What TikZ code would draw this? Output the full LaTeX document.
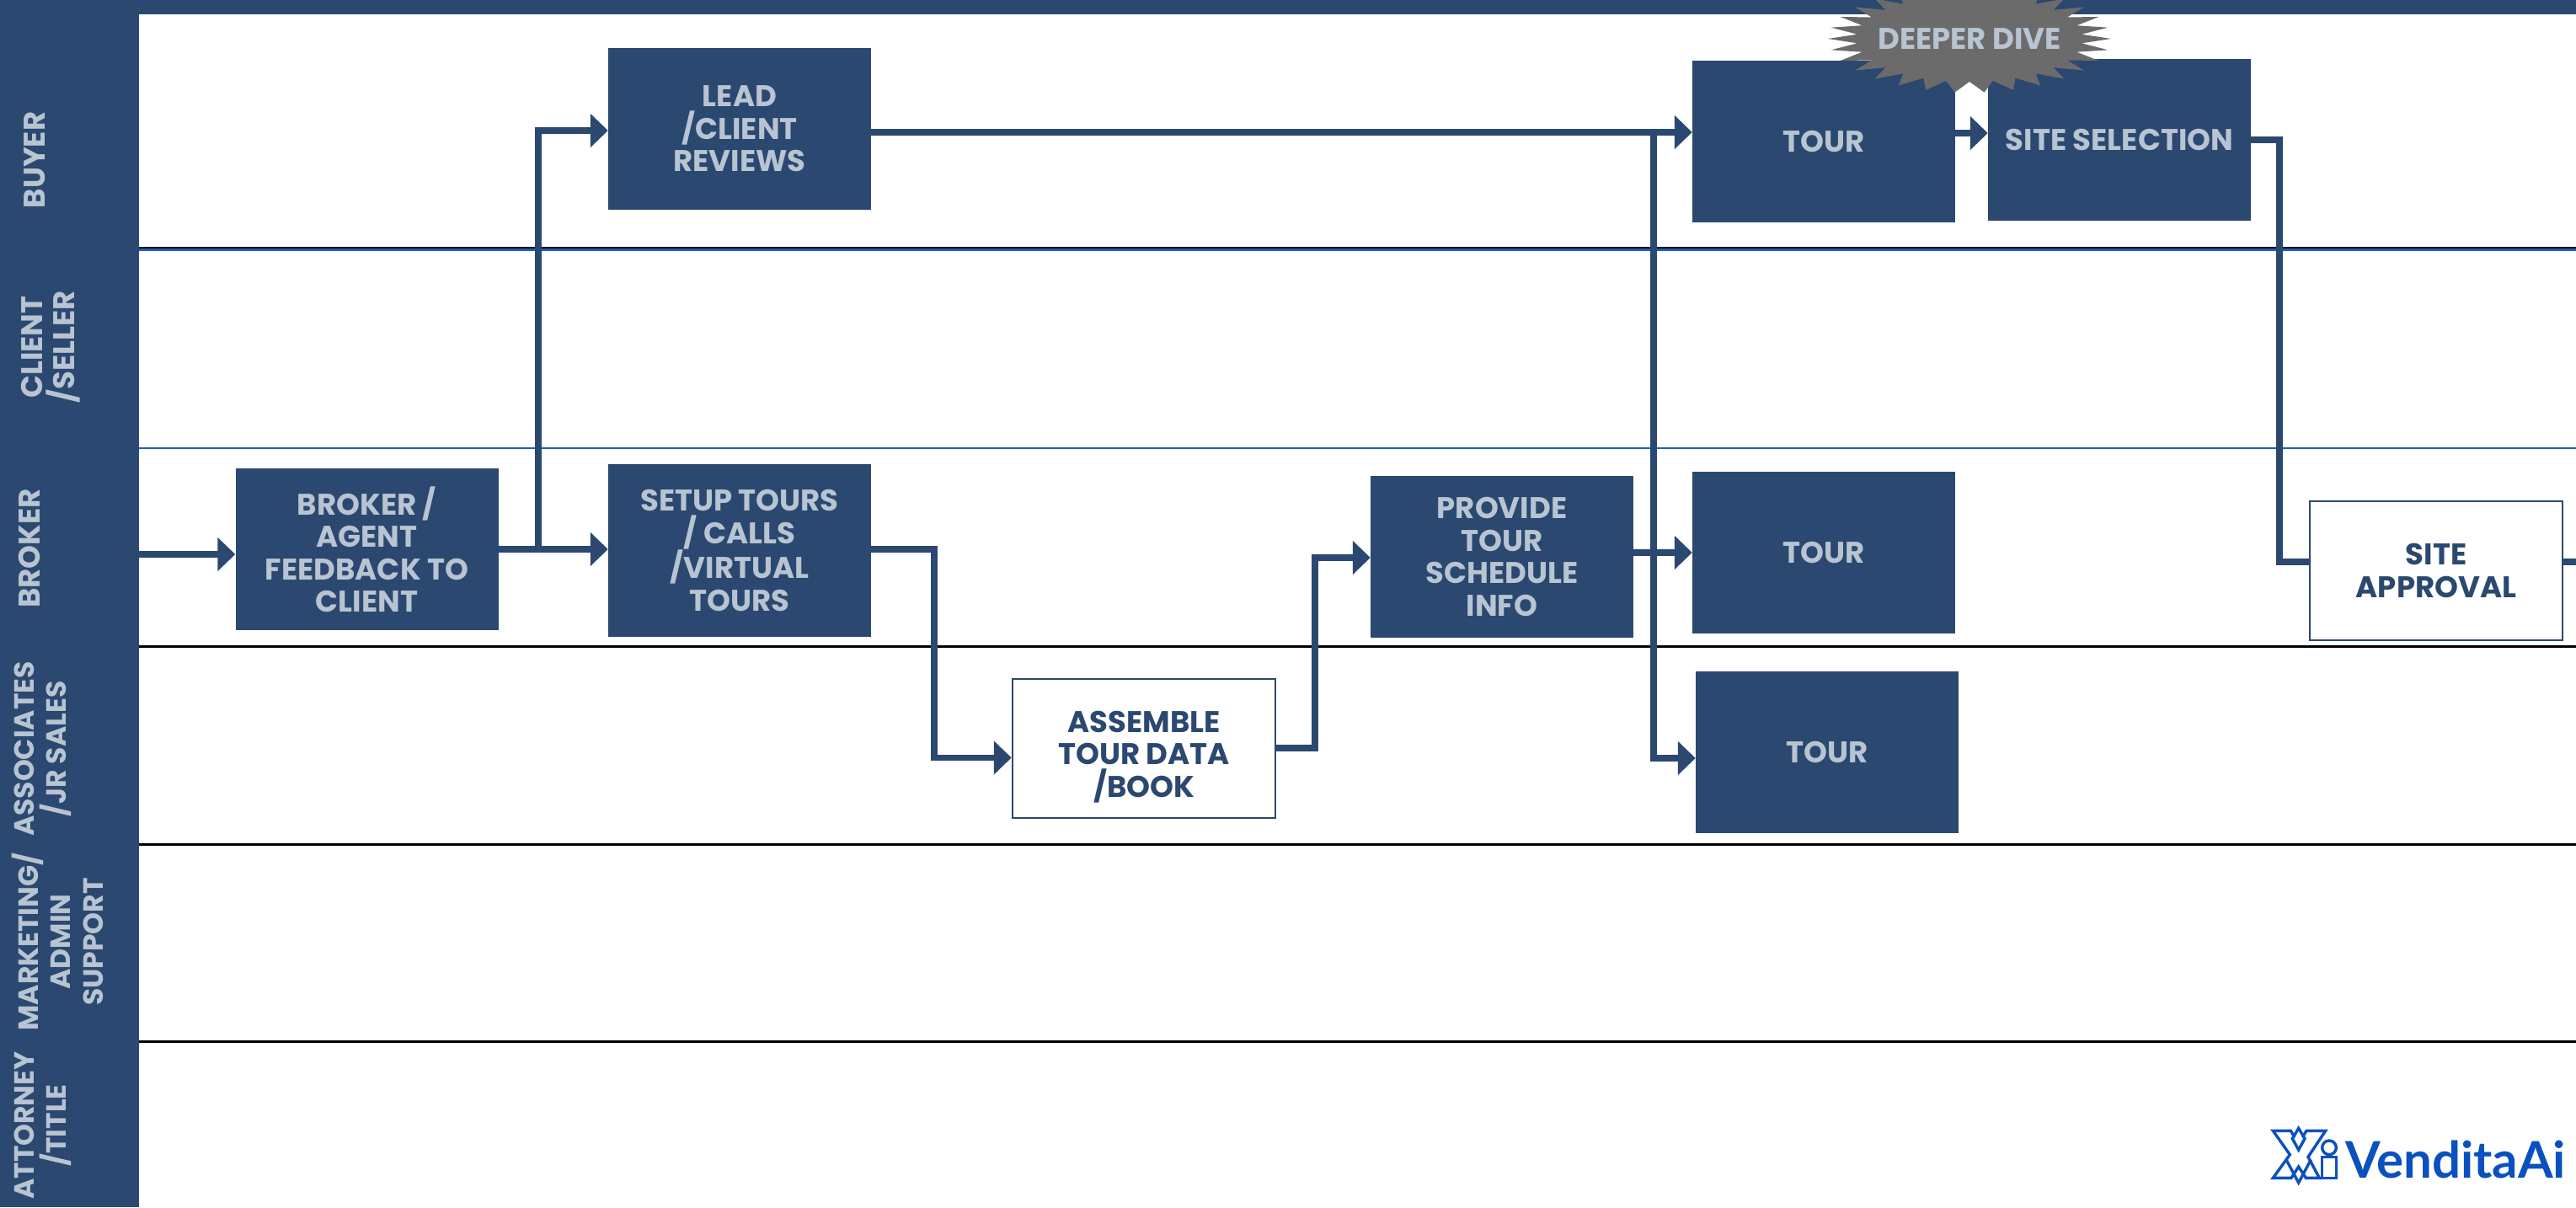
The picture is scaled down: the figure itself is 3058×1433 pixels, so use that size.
\documentclass[tikz,border=0pt]{standalone}
\usepackage{fontspec}
\setmainfont{Poppins}
\newfontfamily\logofont{Lato}
\usepackage{tikz}
\usetikzlibrary{arrows.meta}

\definecolor{navy}{HTML}{2B4870}
\definecolor{pale}{HTML}{B8C4D1}
\definecolor{divegray}{HTML}{6B6B6B}
\definecolor{laneblue}{HTML}{1F5FBF}
\definecolor{logoblue}{HTML}{0B50BF}

\newcommand{\boxfont}{\fontsize{35.5}{38.5}\selectfont\bfseries}
\newcommand{\longlanefont}{\fontsize{33}{38.5}\selectfont\bfseries}

\tikzset{
	bluebox/.style={rectangle, fill=navy, text=pale, inner sep=0pt, align=center, font=\boxfont, minimum width=312, minimum height=192},
	whitebox/.style={rectangle, draw=navy, line width=2.5pt, fill=white, text=navy, inner sep=0pt, align=center, font=\boxfont},
	lanelabel/.style={rotate=90, text=pale, inner sep=0pt, align=center, font=\boxfont},
	longlabel/.style={lanelabel, font=\longlanefont},
	lane/.style={line width=3pt, black},
	flow/.style={draw=navy, line width=7.5pt, -{Triangle[length=21pt,width=39pt]}},
	flowstub/.style={draw=navy, line width=7.5pt},
}

\begin{document}
\begin{tikzpicture}[x=1pt, y=-1pt]
\useasboundingbox (0,0) rectangle (3058,1433);
\clip (0,0) rectangle (3058,1433);

\draw[lane] (165,294) -- (3058,294);
\draw[line width=2.5pt, laneblue] (165,296.5) -- (3058,296.5);
\draw[line width=2.5pt, laneblue] (165,532) -- (3058,532);
\draw[lane] (165,767) -- (3058,767);
\draw[lane] (165,1002) -- (3058,1002);
\draw[lane] (165,1236) -- (3058,1236);

\fill[navy] (0,0) rectangle (165,1433);
\fill[navy] (0,0) rectangle (3058,17);

\node (buyer) at (41,190) [lanelabel] {BUYER};
\node (seller) at (60,412) [lanelabel] {CLIENT\\/SELLER};
\node (brokerlane) at (35,651) [lanelabel] {BROKER};
\node (associates) at (51,889) [longlabel] {ASSOCIATES\\/JR SALES};
\node (marketing) at (68,1118) [longlabel] {MARKETING/\\ADMIN\\SUPPORT};
\node (attorney) at (51,1336) [longlabel] {ATTORNEY\\/TITLE};

\node (lead) at (878,153) [bluebox] {LEAD\\/CLIENT\\REVIEWS};
\node (feedback) at (435.5,652) [bluebox] {BROKER /\\AGENT\\FEEDBACK TO\\CLIENT};
\node (setup) at (878,653.5) [bluebox, minimum height=205] {SETUP TOURS\\/ CALLS\\/VIRTUAL\\TOURS};
\node (assemble) at (1358,888.5) [whitebox, minimum width=312, minimum height=165] {\rule{0pt}{45pt}ASSEMBLE\\TOUR DATA\\/BOOK};
\node (provide) at (1783,661) [bluebox] {PROVIDE\\TOUR\\SCHEDULE\\INFO};
\node (tourtop) at (2165,168) [bluebox] {TOUR};
\node (tourmid) at (2165,656) [bluebox] {TOUR};
\node (tourlow) at (2169,893) [bluebox] {TOUR};
\node (selection) at (2516,166) [bluebox] {SITE SELECTION};
\node (approval) at (2892,677.5) [whitebox, minimum width=300, minimum height=165] {SITE\\APPROVAL};

\coordinate (entry) at (165,658);
\coordinate (forklead) at (639,652);
\coordinate (forktour) at (1963,157);
\coordinate (dropsetup) at (1109,652);
\coordinate (riseassemble) at (1561,888);
\coordinate (dropselection) at (2706,166);
\coordinate (exitapproval) at (3058,667);

\draw[flow] (entry) -- (entry -| feedback.west);
\draw[flow] (feedback.east) -- (feedback.east -| setup.west);
\draw[flow] (forklead) |- ([yshift=-2pt]lead.west);
\draw[flow] ([yshift=-4pt]lead.east) -- ([yshift=11pt]tourtop.west);
\draw[flow] (forktour) |- ([yshift=-7pt]tourlow.west);
\draw[flow] ([yshift=10pt]tourtop.east) -- ([yshift=8pt]selection.west);
\draw[flow] (setup.east |- dropsetup) -| ([yshift=-11pt]assemble.west -| dropsetup) -- ([yshift=-11pt]assemble.west);
\draw[flow] (riseassemble -| assemble.east) -| ([yshift=-1pt]provide.west -| riseassemble) -- ([yshift=-1pt]provide.west);
\draw[flow] (provide.east |- tourmid.west) -- (tourmid.west);
\draw[flowstub] (selection.east) -| (dropselection |- exitapproval) -- (exitapproval -| approval.west);
\draw[flowstub] (exitapproval -| approval.east) -- (exitapproval);

\fill[divegray] plot[samples at={0,...,59}, variable=\k] ({2338+(134+34*(1-mod(\k,2)))*cos(\k*6)}, {46+(51+13*(1-mod(\k,2)))*sin(\k*6)}) -- cycle;
\node (dive) at (2338,46) [text=pale, inner sep=0pt, font=\boxfont] {DEEPER DIVE};

\begin{scope}[shift={(2690,1330)}, x=0.3333pt, y=-0.3333pt, draw=logoblue, line width=3.4pt]
\draw (102,60) -- (88,37) -- (25,37) -- (85,122) -- (25,205) -- (90,205) -- (116,165) -- (142,205) -- (190,205) -- (150,130) -- (212,37) -- (144,37) -- (130,60);
\draw (116,28) -- (138,65) -- (116,105) -- (94,65) -- cycle;
\draw (72,140) -- (116,222) -- (160,140);
\draw (225,97) circle (25);
\draw (200,130) rectangle (250,205);
\end{scope}
\node (logo) at (2915,1376) [text=logoblue, inner sep=0pt, font=\fontsize{60}{60}\selectfont\logofont\bfseries] {VenditaAi};
\end{tikzpicture}
\end{document}
